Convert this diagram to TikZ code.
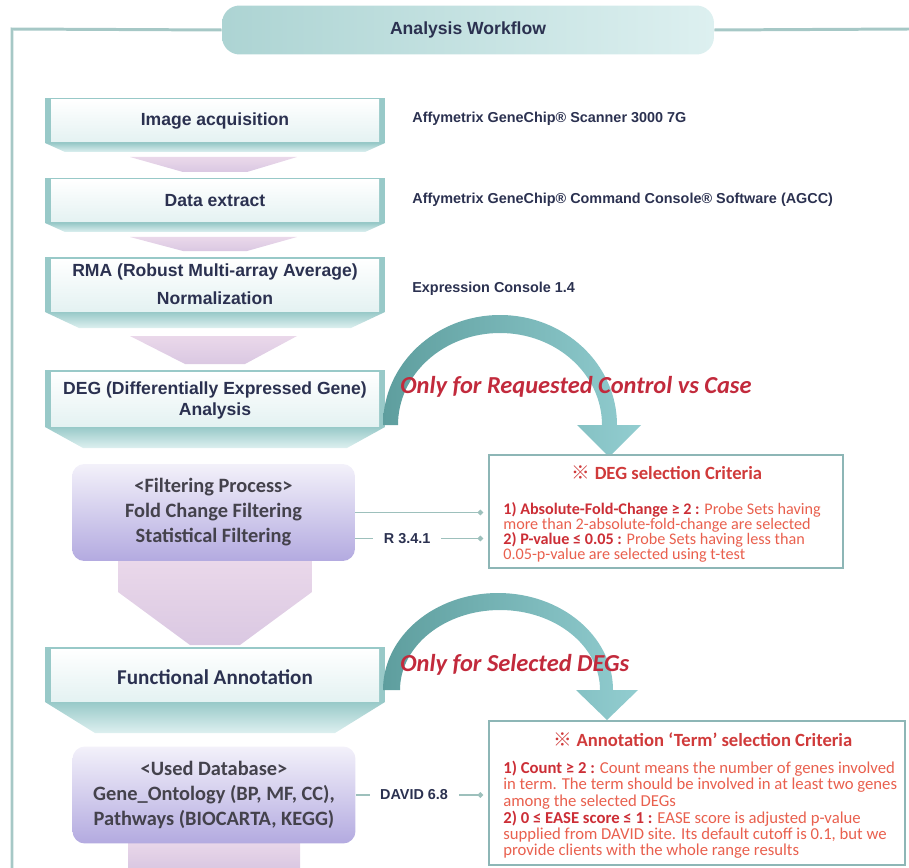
\documentclass[tikz,border=0pt]{standalone}
\usepackage{fontspec}
\setmainfont{Liberation Sans}
\newfontfamily\carl{Carlito}
\newfontfamily\cjk{Noto Sans CJK SC}
\usetikzlibrary{calc,arrows.meta}

\definecolor{frameline}{HTML}{A6C8C6}
\definecolor{tealdark}{HTML}{5E9E9E}
\definecolor{teallight}{HTML}{92CDD0}
\definecolor{tealbar}{HTML}{98C9C8}
\definecolor{tealfade}{HTML}{DDF0F0}
\definecolor{boxface}{HTML}{E4F2F2}
\definecolor{pinktop}{HTML}{EAD8EA}
\definecolor{pinkbot}{HTML}{DAC8E2}
\definecolor{lavtop}{HTML}{F3F1FA}
\definecolor{lavmid}{HTML}{DCD8F0}
\definecolor{lavbot}{HTML}{B3AAE0}
\definecolor{navytext}{HTML}{2B3150}
\definecolor{graytext}{HTML}{44424C}
\definecolor{redtitle}{HTML}{D03A3A}
\definecolor{redbody}{HTML}{E9604E}
\definecolor{redbold}{HTML}{CC2E36}
\definecolor{redital}{HTML}{C22A3C}
\definecolor{critline}{HTML}{8DB6B6}
\definecolor{linkline}{HTML}{9DC0BC}

% 步骤框: 上沿, 矩形下沿, 箭头下沿, 收进
\newcommand{\stepbox}[4]{%
  \fill[tealbar] (45,#1) rectangle (385,#2);
  \shade[top color=tealbar, bottom color=tealfade]
    (45,#2) -- (385,#2) -- ({385-#4},#3) -- ({45+#4},#3) -- cycle;
  \shade[top color=white, bottom color=boxface] (51,{#1+2}) rectangle (379,{#2-1});
}
\newcommand{\critkey}[1]{{\color{redbold}\bfseries #1}}

\tikzset{
  outerframe/.style={draw=frameline, line width=1.7pt},
  banner/.style={rounded corners=10pt, left color=tealbar!80, right color=tealfade,
    minimum width=9.84cm, minimum height=0.98cm, text=navytext,
    font=\bfseries\fontsize{10}{12}\selectfont},
  steptext/.style={font=\bfseries\fontsize{10}{12}\selectfont, text=navytext, align=center},
  tool/.style={font=\bfseries\fontsize{8.2}{10}\selectfont, text=navytext, anchor=west, inner sep=0pt},
  procbox/.style={rounded corners=7pt, top color=lavtop, middle color=lavmid, bottom color=lavbot,
    minimum width=5.66cm, minimum height=1.94cm, align=center, text=graytext,
    font=\carl\bfseries\fontsize{11.6}{14.2}\selectfont},
  pinkarrow/.style={top color=pinktop, bottom color=pinkbot},
  curvearrow/.style={left color=tealdark, right color=teallight},
  onlytext/.style={font=\carl\bfseries\itshape\fontsize{13.9}{16}\selectfont, text=redital, anchor=west, inner sep=0pt},
  critbox/.style={draw=critline, line width=0.9pt, fill=white},
  crittitle/.style={font=\carl\bfseries\fontsize{10.6}{12}\selectfont, text=redtitle},
  critbody/.style={font=\carl\fontsize{9.2}{8.5}\selectfont, text=redbody, align=left,
    anchor=north west, inner sep=0pt},
  link/.style={draw=linkline, line width=0.85pt, -{Circle[length=3pt]}, shorten >=3pt},
  linklabel/.style={fill=white, inner xsep=6pt, text=navytext, font=\bfseries\fontsize{8.2}{10}\selectfont}
}

\begin{document}
\begin{tikzpicture}[x=0.02cm, y=-0.02cm]
  \useasboundingbox (0,0) rectangle (909,868);

  % 标题与外框
  \node[banner] (title) at (468,30) {Analysis Workflow};
  \draw[outerframe] (12,868) -- (12,29) -- (title.west);
  \draw[outerframe] (title.east) -- (909,29);

  % 粉色下行箭头
  \shade[pinkarrow] (130,157) -- (297,157) -- (247,172) -- (183,172) -- cycle;
  \shade[pinkarrow] (130,237) -- (297,237) -- (247,251) -- (183,251) -- cycle;
  \shade[pinkarrow] (130,336) -- (297,336) -- (245,364) -- (185,364) -- cycle;
  \shade[pinkarrow] (118,560) -- (312,560) -- (312,592) -- (240,645) -- (190,645) -- (118,592) -- cycle;
  \shade[pinkarrow] (128,840) rectangle (300,868);

  % 步骤框
  \stepbox{98}{143}{152}{20}
  \stepbox{178}{223}{232}{20}
  \stepbox{257}{312}{328}{34}
  \stepbox{370}{427}{448}{38}
  \stepbox{647}{702}{733}{50}

  \node[steptext] (img) at (215,121) {Image acquisition};
  \node[steptext] (data) at (215,201) {Data extract};
  \node[steptext] (rma) at (215,284) {RMA (Robust Multi-array Average)\\[4pt]Normalization};
  \node[steptext] (deg) at (215,400) {DEG (Differentially Expressed Gene)\\Analysis};
  \node[steptext, font=\carl\bfseries\fontsize{12}{14}\selectfont] (func) at (215,677) {Functional Annotation};

  \node[procbox] (filt) at (213.5,512.5) {<Filtering Process>\\Fold Change Filtering\\Statistical Filtering};
  \node[procbox] (db) at (214,795) {<Used Database>\\Gene\_Ontology (BP, MF, CC),\\Pathways (BIOCARTA, KEGG)};

  % 软件
  \node[tool] (scan) at (412,119) {Affymetrix GeneChip® Scanner 3000 7G};
  \node[tool] (agcc) at (412,200) {Affymetrix GeneChip® Command Console® Software (AGCC)};
  \node[tool] (ecs) at (412,289) {Expression Console 1.4};

  % 弯箭头
  \shade[curvearrow] (383,425) arc[start angle=180, end angle=360, x radius=117, y radius=110]
    -- (641,425) -- (609,457) -- (577,425) -- (602,425)
    arc[start angle=360, end angle=180, x radius=102, y radius=92] -- cycle;
  \shade[curvearrow] (383,690) arc[start angle=180, end angle=360, x radius=115, y radius=97]
    -- (638,690) -- (607,720) -- (576,690) -- (600,690)
    arc[start angle=360, end angle=180, x radius=100, y radius=80] -- cycle;
  \node[onlytext] (only1) at (400,387) {Only for Requested Control vs Case};
  \node[onlytext] (only2) at (400,665) {Only for Selected DEGs};

  % 筛选标准
  \node[critbox, minimum width=7.08cm, minimum height=2.26cm] (crit1) at (666,511.5) {};
  \node[crittitle] (crit1t) at (667,473) {{\cjk ※} DEG selection Criteria};
  \node[critbody] (crit1b) at (503,502) {\critkey{1) Absolute-Fold-Change ≥ 2 :} Probe Sets having\\
    more than 2-absolute-fold-change are selected\\
    \critkey{2) P-value ≤ 0.05 :} Probe Sets having less than\\
    0.05-p-value are selected using t-test};

  \node[critbox, minimum width=8.32cm, minimum height=2.88cm] (crit2) at (697,793) {};
  \node[crittitle] (crit2t) at (703,740) {{\cjk ※} Annotation ‘Term’ selection Criteria};
  \node[critbody, font=\carl\fontsize{9.5}{7.9}\selectfont] (crit2b) at (503,761) {\critkey{1) Count ≥ 2 :} Count means the number of genes involved\\
    in term. The term should be involved in at least two genes\\
    among the selected DEGs\\
    \critkey{2) 0 ≤ EASE score ≤ 1 :} EASE score is adjusted p-value\\
    supplied from DAVID site. Its default cutoff is 0.1, but we\\
    provide clients with the whole range results};

  % 连线
  \draw[link] (filt.east) -- (filt.east -| crit1.west);
  \draw[link] ($(filt.east)+(0,26)$) -- node[linklabel, pos=0.39] (rver) {R 3.4.1} ($(filt.east -| crit1.west)+(0,26)$);
  \draw[link] (db.east) -- node[linklabel, pos=0.44] (david) {DAVID 6.8} (db.east -| crit2.west);
\end{tikzpicture}
\end{document}
